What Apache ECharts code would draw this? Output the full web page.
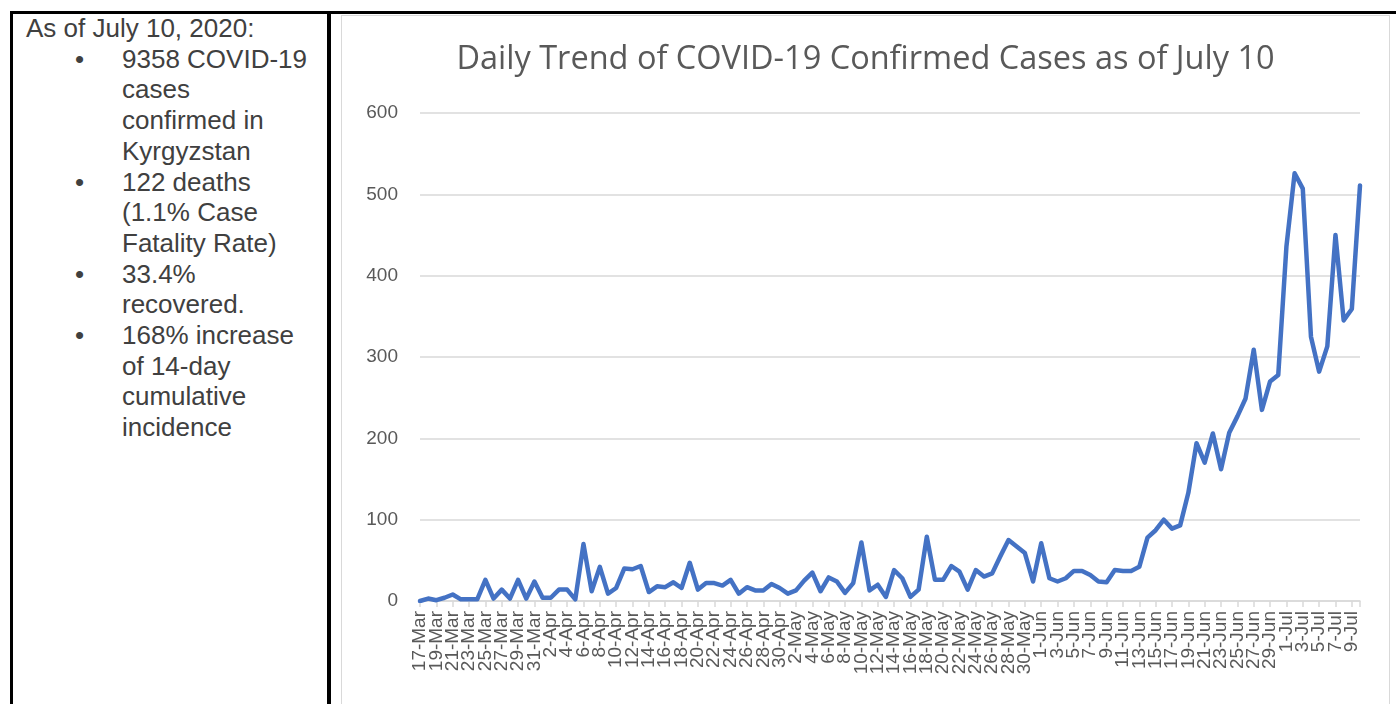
<!DOCTYPE html>
<html>
<head>
<meta charset="utf-8">
<script src="https://cdn.jsdelivr.net/npm/echarts@6/dist/echarts.min.js"></script>
<style>
  html, body { margin: 0; padding: 0; background: #ffffff; }
  body { width: 1396px; height: 704px; position: relative; overflow: hidden; }
  .bk { position: absolute; background: #000; }
  #frame { position: absolute; left: 341px; top: 15px; width: 1049px; height: 700px; border: 1px solid #d9d9d9; box-sizing: border-box; }
  #chart { position: absolute; left: 342px; top: 16px; width: 1047px; height: 688px; }
  #notes { position: absolute; left: 26px; top: 13px; font-family: "Liberation Sans", Arial, sans-serif; font-size: 26px; line-height: 30.7px; color: #404040; white-space: nowrap; }
  .item { position: relative; padding-left: 96px; }
  .item .b { position: absolute; left: 49px; top: 0; }
</style>
</head>
<body>
<div class="bk" style="left:10px; top:11px; width:1386px; height:3px;"></div>
<div class="bk" style="left:10px; top:11px; width:3px; height:693px;"></div>
<div class="bk" style="left:327px; top:11px; width:4px; height:693px;"></div>
<div id="frame"></div>
<div id="notes">
  <div>As of July 10, 2020:</div>
  <div class="item"><span class="b">•</span>9358 COVID-19<br>cases<br>confirmed in<br>Kyrgyzstan</div>
  <div class="item"><span class="b">•</span>122 deaths<br>(1.1% Case<br>Fatality Rate)</div>
  <div class="item"><span class="b">•</span>33.4%<br>recovered.</div>
  <div class="item"><span class="b">•</span>168% increase<br>of 14-day<br>cumulative<br>incidence</div>
</div>
<div id="chart"></div>
<script>
const titleText = "Daily Trend of COVID-19 Confirmed Cases as of July 10";

const categories = [
  "17-Mar","18-Mar","19-Mar","20-Mar","21-Mar","22-Mar","23-Mar","24-Mar","25-Mar","26-Mar",
  "27-Mar","28-Mar","29-Mar","30-Mar","31-Mar",
  "1-Apr","2-Apr","3-Apr","4-Apr","5-Apr","6-Apr","7-Apr","8-Apr","9-Apr","10-Apr",
  "11-Apr","12-Apr","13-Apr","14-Apr","15-Apr","16-Apr","17-Apr","18-Apr","19-Apr","20-Apr",
  "21-Apr","22-Apr","23-Apr","24-Apr","25-Apr","26-Apr","27-Apr","28-Apr","29-Apr","30-Apr",
  "1-May","2-May","3-May","4-May","5-May","6-May","7-May","8-May","9-May","10-May",
  "11-May","12-May","13-May","14-May","15-May","16-May","17-May","18-May","19-May","20-May",
  "21-May","22-May","23-May","24-May","25-May","26-May","27-May","28-May","29-May","30-May","31-May",
  "1-Jun","2-Jun","3-Jun","4-Jun","5-Jun","6-Jun","7-Jun","8-Jun","9-Jun","10-Jun",
  "11-Jun","12-Jun","13-Jun","14-Jun","15-Jun","16-Jun","17-Jun","18-Jun","19-Jun","20-Jun",
  "21-Jun","22-Jun","23-Jun","24-Jun","25-Jun","26-Jun","27-Jun","28-Jun","29-Jun","30-Jun",
  "1-Jul","2-Jul","3-Jul","4-Jul","5-Jul","6-Jul","7-Jul","8-Jul","9-Jul","10-Jul"
];

// daily confirmed cases
const marchCases = [0, 3, 1, 4, 8, 2, 2, 2, 26, 3, 14, 3, 26, 3, 24];
const aprilCases = [4, 4, 14, 14, 2, 70, 12, 42, 9, 16, 40, 39, 43, 11, 18, 17, 23, 16, 47, 14,
                    22, 22, 19, 26, 9, 17, 13, 13, 21, 16];
const mayCases   = [9, 13, 25, 35, 12, 29, 24, 10, 22, 72, 13, 20, 5, 38, 28, 5, 14, 79, 26, 26,
                    43, 36, 14, 38, 30, 34, 55, 75, 67, 59, 24];
const juneCases  = [71, 28, 24, 28, 37, 37, 32, 24, 23, 38, 37, 37, 42, 78, 87, 100, 89, 93, 133, 194,
                    170, 206, 162, 207, 227, 249, 309, 235, 270, 278];
const julyCases  = [436, 526, 507, 325, 282, 313, 450, 345, 359, 511];

const yTicks = { min: 0, max: 600, interval: 100 };

const dailyCases = [].concat(marchCases, aprilCases, mayCases, juneCases, julyCases);

const chart = echarts.init(document.getElementById('chart'), null, { renderer: 'canvas' });
chart.setOption({
  backgroundColor: 'transparent',
  animation: false,
  title: {
    text: titleText,
    left: 'center',
    top: 22,
    textStyle: { fontFamily: 'Open Sans', fontSize: 32.5, fontWeight: 'normal', color: '#595959' }
  },
  grid: { left: 78, right: 29, top: 97, bottom: 103, containLabel: false },
  xAxis: {
    type: 'category',
    data: categories,
    boundaryGap: false,
    axisLine: { show: true, lineStyle: { color: '#d9d9d9', width: 1.5 } },
    axisTick: { show: true, interval: 1, length: 6, lineStyle: { color: '#d9d9d9', width: 1.5 } },
    axisLabel: {
      interval: 0,
      formatter: function (value, index) { return index % 2 === 0 ? value : ''; },
      hideOverlap: false,
      rotate: 90,
      margin: 10,
      fontFamily: 'Liberation Sans',
      fontSize: 19,
      color: '#595959'
    },
    splitLine: { show: false }
  },
  yAxis: {
    type: 'value',
    min: yTicks.min,
    max: yTicks.max,
    interval: yTicks.interval,
    axisLine: { show: false },
    axisTick: { show: false },
    axisLabel: { margin: 22, fontFamily: 'Liberation Sans', fontSize: 19, color: '#595959' },
    splitLine: { show: true, lineStyle: { color: '#d9d9d9', width: 1.5 } }
  },
  series: [{
    type: 'line',
    data: dailyCases,
    showSymbol: false,
    smooth: false,
    lineStyle: { color: '#4472c4', width: 4.5, join: 'round', cap: 'round' },
    itemStyle: { color: '#4472c4' }
  }]
});
</script>
</body>
</html>
